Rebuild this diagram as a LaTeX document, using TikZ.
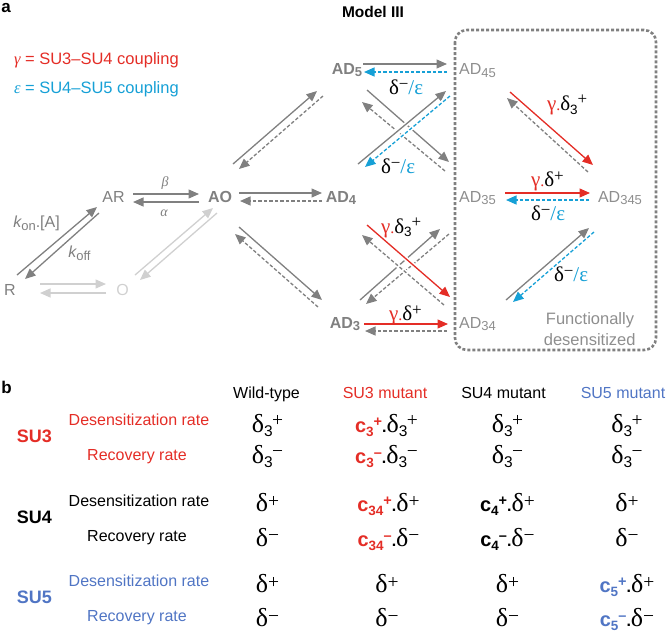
\documentclass[tikz,border=0pt]{standalone}
\usepackage{fontspec}
\setmainfont{Liberation Sans}
\newfontfamily\grk{Liberation Serif}
\usetikzlibrary{arrows.meta,calc}
\definecolor{gr}{RGB}{128,128,128}
\definecolor{lgr}{RGB}{208,208,208}
\definecolor{txg}{RGB}{142,142,142}
\definecolor{rd}{RGB}{228,45,38}
\definecolor{cy}{RGB}{22,160,214}
\definecolor{bl}{RGB}{80,117,196}
\newcommand\fs[1]{\fontsize{#1}{#1}\selectfont}
\newcommand\nsb[1]{\raisebox{-2.5pt}{\fs{13}#1}}
% table symbols
\newcommand\TD{{\grk\fs{26}δ}}
\newcommand\Tsb[1]{\raisebox{-4.5pt}{\fs{15.5}#1}}
\newcommand\Tsp[2]{\raisebox{#1}{\grk\fs{19.5}#2}}
\newcommand\dTp{\TD\Tsb{3}\kern-0.5pt\Tsp{6pt}{+}}
\newcommand\dTm{\TD\Tsb{3}\kern-0.5pt\Tsp{6pt}{−}}
\newcommand\dPl{\TD\Tsp{4pt}{+}}
\newcommand\dMi{\TD\Tsp{4.5pt}{−}}
\newcommand\cpre[3]{{\color{#1}\bfseries\fs{20}c\raisebox{-4pt}{\fs{13.5}#2}\raisebox{6pt}{\fs{14.5}#3}}{\bfseries\fs{16}.}}
% diagram labels
\newcommand\GD{{\grk\fs{21}δ}}
\newcommand\Gsb[1]{\raisebox{-3.5pt}{\fs{13.5}#1}}
\newcommand\Gsp[2]{\raisebox{#1}{\grk\fs{17}#2}}
\newcommand\gam{{\color{rd}\grk\fs{21}γ\fs{16}.}}
\newcommand\LDE{\GD\Gsp{5pt}{−}{\color{cy}\grk\fs{21}/ε}}
\newcommand\LGT{\gam\GD\Gsb{3}\Gsp{6pt}{+}}
\newcommand\LGP{\gam\GD\Gsp{5pt}{+}}
\tikzset{
  every node/.style={inner sep=0pt, outer sep=0pt, anchor=base},
  nd/.style={text=gr, font=\fs{16}},
  ndb/.style={text=gr, font=\bfseries\fs{16}},
  ndl/.style={text=txg, font=\fs{16}},
  lab/.style={anchor=base west},
  ar/.style={line width=1.3pt, -{Triangle[length=10.5pt,width=9pt]}},
  ga/.style={ar, draw=gr},
  la/.style={ar, draw=lgr},
  ra/.style={ar, draw=rd},
  ca/.style={ar, draw=cy},
  dsh/.style={dash pattern=on 3.5pt off 2pt},
  ontop/.style={preaction={-, draw=white, line width=4.5pt, solid}},
  hd/.style={font=\fs{16}},
  rl/.style={font=\fs{16}},
  sul/.style={font=\bfseries\fs{18}},
  ent/.style={font=\fs{16}}
}
\begin{document}
\begin{tikzpicture}[x=1pt,y=-1pt]
\useasboundingbox (0,0) rectangle (667,633);
% ---------- panel a ----------
\node[lab,font=\bfseries\fs{17}] (pa) at (1.5,12) {a};
\node[font=\bfseries\fs{15.5}] (title) at (373,17) {Model III};
\node[lab,text=rd,font=\fs{16.5}] (leg1) at (14,64) {{\grk\itshape γ} = SU3–SU4 coupling};
\node[lab,text=cy,font=\fs{16.5}] (leg2) at (14,93) {{\grk\itshape ε} = SU4–SU5 coupling};

% functionally desensitized box
\draw[draw=gr, line width=2.6pt, dash pattern=on 3pt off 2pt, rounded corners=12pt] (455,30) rectangle (656,350);
\node[text=txg,font=\fs{16.5}] (fd1) at (590,324) {Functionally};
\node[text=txg,font=\fs{16.5}] (fd2) at (589.7,345) {desensitized};

% states
\node[nd] (R) at (10,295) {R};
\node[text=lgr,font=\fs{16}] (O) at (122.5,295.5) {O};
\node[nd] (AR) at (113.5,202) {AR};
\node[ndb] (AO) at (220,202) {AO};
\node[ndb] (AD5) at (347,74) {AD\nsb{5}};
\node[ndb] (AD4) at (341,202) {AD\nsb{4}};
\node[ndb] (AD3) at (345,328) {AD\nsb{3}};
\node[ndl] (AD45) at (477.5,74.5) {AD\nsb{45}};
\node[ndl] (AD35) at (477.5,202) {AD\nsb{35}};
\node[ndl] (AD34) at (477.5,328) {AD\nsb{34}};
\node[ndl] (AD345) at (620,202) {AD\nsb{345}};

% rate labels
\node[lab,text=gr,font=\fs{16}] (kon) at (13.3,227.7) {\itshape k\upshape\raisebox{-2.5pt}{\fs{13}on}.[A]};
\node[lab,text=gr,font=\fs{16}] (koff) at (68.3,257.7) {\itshape k\upshape\raisebox{-2.5pt}{\fs{13}off}};
\node[text=gr,font=\grk\itshape\fs{14}] (beta) at (165,186) {β};
\node[text=gr,font=\grk\itshape\fs{14}] (alpha) at (164,216) {α};

\node[lab] (l1) at (389,94.5) {\LDE};
\node[lab] (l2) at (381,173.5) {\LDE};
\node[lab] (l3) at (381,233) {\LGT};
\node[lab] (l4) at (389,320) {\LGP};
\node[lab] (l5) at (547,110.5) {\LGT};
\node[lab] (l6) at (531,186.5) {\LGP};
\node[lab] (l7) at (531,220) {\LDE};
\node[lab] (l8) at (554,281.5) {\LDE};

% arrows
\draw[ga] ($(R.base)+(7,-20)$) -- ($(AR.base)+(-16.5,5)$);
\draw[ga] ($(AR.base)+(-14.5,11)$) -- ($(R.base)+(15,-16)$);
\draw[ga] ($(AR.base)+(19.5,-8)$) -- ($(AO.base)+(-21,-8)$);
\draw[ga] ($(AO.base)+(-21,0)$) -- ($(AR.base)+(19.5,0)$);
\draw[la] ($(R.base)+(30,-11)$) -- ($(O.base)+(-16.5,-11.5)$);
\draw[la] ($(O.base)+(-16.5,-2.5)$) -- ($(R.base)+(30,-2)$);
\draw[la] ($(O.base)+(12.5,-20.5)$) -- ($(AO.base)+(-7,6)$);
\draw[la] ($(AO.base)+(-3,11)$) -- ($(O.base)+(17.5,-15.5)$);
\draw[ga] ($(AO.base)+(19,-9)$) -- ($(AD4.base)+(-19,-9)$);
\draw[ga,dsh] ($(AD4.base)+(-19,-1)$) -- ($(AO.base)+(20,-1)$);
\draw[ga] ($(AO.base)+(13,-38)$) -- ($(AD5.base)+(-30,17)$);
\draw[ga,dsh] ($(AD5.base)+(-24,22)$) -- ($(AO.base)+(19,-33)$);
\draw[ga] ($(AO.base)+(19,25)$) -- ($(AD3.base)+(-23,-28)$);
\draw[ga,dsh] ($(AD3.base)+(-27,-21)$) -- ($(AO.base)+(15,32)$);
\draw[ga] ($(AD5.base)+(16,-10)$) -- ($(AD45.base)+(-30.5,-10.5)$);
\draw[ca,dsh] ($(AD45.base)+(-30.5,-2.5)$) -- ($(AD5.base)+(17,-2)$);
% under pairs
\draw[ga] ($(AD5.base)+(20,16)$) -- ($(AD35.base)+(-28.5,-40)$);
\draw[ga,dsh] ($(AD35.base)+(-32.5,-31)$) -- ($(AD5.base)+(15,28)$);
\draw[ga] ($(AD3.base)+(15,-28)$) -- ($(AD35.base)+(-37.5,27)$);
\draw[ga,dsh] ($(AD35.base)+(-28.5,32)$) -- ($(AD3.base)+(21,-24)$);
% over pairs
\draw[ga,ontop] ($(AD4.base)+(17,-38)$) -- ($(AD45.base)+(-31.5,16.5)$);
\draw[ca,dsh,ontop] ($(AD45.base)+(-27.5,21.5)$) -- ($(AD4.base)+(24,-35)$);
\draw[ra,ontop] ($(AD4.base)+(26,23)$) -- ($(AD34.base)+(-27.5,-31)$);
\draw[ga,dsh,ontop] ($(AD34.base)+(-33.5,-23)$) -- ($(AD4.base)+(21,33)$);
\draw[ra] ($(AD3.base)+(19,-4)$) -- ($(AD34.base)+(-29.5,-4)$);
\draw[ga,dsh] ($(AD34.base)+(-30.5,3)$) -- ($(AD3.base)+(20,3)$);
% inside box
\draw[ra] ($(AD45.base)+(32.5,17.5)$) -- ($(AD345.base)+(-27,-37)$);
\draw[ga,dsh] ($(AD345.base)+(-32,-30)$) -- ($(AD45.base)+(29.5,23.5)$);
\draw[ra] ($(AD35.base)+(27.5,-9)$) -- ($(AD345.base)+(-30,-9)$);
\draw[ca,dsh] ($(AD345.base)+(-31,-2)$) -- ($(AD35.base)+(28.5,-2)$);
\draw[ga] ($(AD34.base)+(28.5,-28)$) -- ($(AD345.base)+(-31,26)$);
\draw[ca,dsh] ($(AD345.base)+(-26,30)$) -- ($(AD34.base)+(35.5,-26)$);

% ---------- panel b ----------
\node[lab,font=\bfseries\fs{17}] (pb) at (1.5,393.3) {b};
\node[hd] (h1) at (266.5,398.3) {Wild-type};
\node[hd,text=rd] (h2) at (385,398.3) {SU3 mutant};
\node[hd] (h3) at (503.5,398.3) {SU4 mutant};
\node[hd,text=bl] (h4) at (623,398.3) {SU5 mutant};

\node[sul,text=rd] (s3) at (34.5,442.7) {SU3};
\node[rl,text=rd] (r1) at (139,425.7) {Desensitization rate};
\node[rl,text=rd] (r2) at (137,460) {Recovery rate};
\node[sul] (s4) at (34.5,523.3) {SU4};
\node[rl] (r3) at (139,506) {Desensitization rate};
\node[rl] (r4) at (137,541) {Recovery rate};
\node[sul,text=bl] (s5) at (34.5,603.3) {SU5};
\node[rl,text=bl] (r5) at (139,586.7) {Desensitization rate};
\node[rl,text=bl] (r6) at (137,621) {Recovery rate};

% entries
\node[ent] (e11) at (267.5,432) {\dTp};
\node[ent] (e12) at (386.5,432) {\cpre{rd}{3}{+}\dTp};
\node[ent] (e13) at (507.5,432) {\dTp};
\node[ent] (e14) at (627,432) {\dTp};
\node[ent] (e21) at (267.5,463) {\dTm};
\node[ent] (e22) at (386.5,463) {\cpre{rd}{3}{–}\dTm};
\node[ent] (e23) at (507.5,463) {\dTm};
\node[ent] (e24) at (627,463) {\dTm};
\node[ent] (e31) at (267.5,511.5) {\dPl};
\node[ent] (e32) at (388.5,511.5) {\cpre{rd}{34}{+}\dPl};
\node[ent] (e33) at (507.5,511.5) {\cpre{black}{4}{+}\dPl};
\node[ent] (e34) at (627,511.5) {\dPl};
\node[ent] (e41) at (267.5,546) {\dMi};
\node[ent] (e42) at (388.5,546) {\cpre{rd}{34}{–}\dMi};
\node[ent] (e43) at (507.5,546) {\cpre{black}{4}{–}\dMi};
\node[ent] (e44) at (627,546) {\dMi};
\node[ent] (e51) at (267.5,592) {\dPl};
\node[ent] (e52) at (387,592) {\dPl};
\node[ent] (e53) at (507.5,592) {\dPl};
\node[ent] (e54) at (627,592) {\cpre{bl}{5}{+}\dPl};
\node[ent] (e61) at (267.5,626.5) {\dMi};
\node[ent] (e62) at (387,626.5) {\dMi};
\node[ent] (e63) at (507.5,626.5) {\dMi};
\node[ent] (e64) at (627,626.5) {\cpre{bl}{5}{–}\dMi};
\end{tikzpicture}
\end{document}
